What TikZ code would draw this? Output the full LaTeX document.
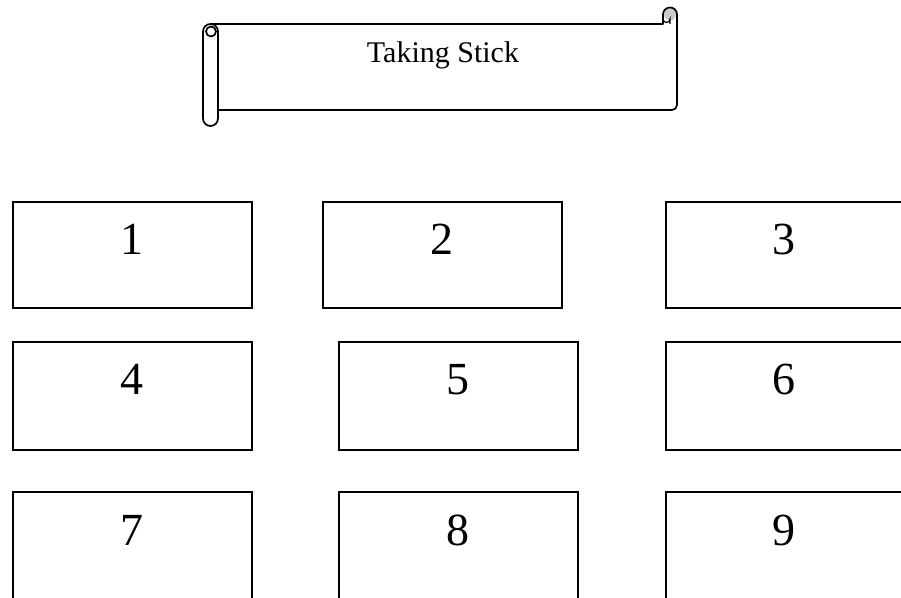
\documentclass[tikz,border=0pt]{standalone}
\usepackage{fontspec}
\setmainfont{Liberation Serif}
\begin{document}
\begin{tikzpicture}[x=1pt,y=1pt,
  seat/.style={draw, line width=1.6pt, minimum width=239pt, inner sep=0pt, anchor=north west},
  num/.style={font=\fontsize{46}{50}\selectfont, anchor=base, inner sep=0pt},
  scroll/.style={line width=1.7pt, line join=round}]
\useasboundingbox (0,0) rectangle (901,597);
% scroll banner
\fill[gray!40] (670,582.5) circle[radius=6];
\draw[scroll] (211,573) -- (663,573) -- (663,582.5);
\draw[scroll] (663,582.5) arc[start angle=180, end angle=0, radius=7] -- (677,492) arc[start angle=0, end angle=-90, radius=5] -- (218,487);
\draw[line width=1.2pt] (663,578) arc[start angle=180, end angle=360, radius=3.5] -- (670,573);
\draw[scroll] (203,565.5) -- (203,478.5) arc[start angle=180, end angle=360, radius=7.5] -- (218,565.5) arc[start angle=0, end angle=180, radius=7.5];
\draw[scroll] (211,565.5) circle[radius=5];
\node[font=\fontsize{30}{34}\selectfont, anchor=base, inner sep=0pt] (title) at (443,534) {Taking Stick};
% seats
\node[seat, minimum height=106pt] (b1) at (12,396) {};
\node[seat, minimum height=106pt] (b2) at (322,396) {};
\node[seat, minimum height=106pt, minimum width=237pt] (b3) at (665,396) {};
\node[seat, minimum height=108pt] (b4) at (12,256) {};
\node[seat, minimum height=108pt] (b5) at (338,256) {};
\node[seat, minimum height=108pt, minimum width=237pt] (b6) at (665,256) {};
\node[seat, minimum height=130pt] (b7) at (12,106) {};
\node[seat, minimum height=130pt] (b8) at (338,106) {};
\node[seat, minimum height=130pt, minimum width=237pt] (b9) at (665,106) {};
\foreach \i in {1,...,9} {
  \node[num] (n\i) at ([yshift=-54pt]b\i.north) {\i};
}
\end{tikzpicture}
\end{document}
